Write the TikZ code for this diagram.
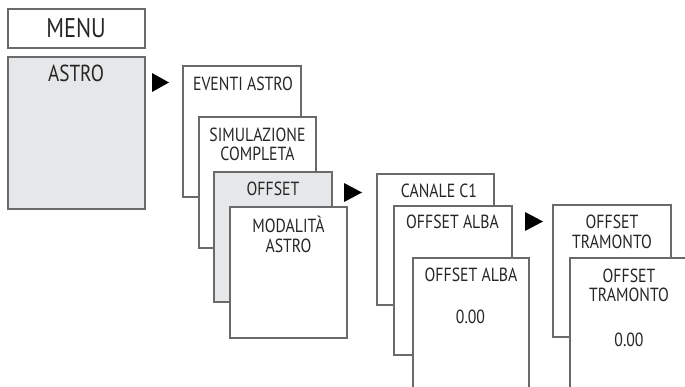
\documentclass[tikz,border=0pt]{standalone}
\usepackage{fontspec}
\setmainfont{PT Sans}[FakeStretch=0.83]
\definecolor{edge}{HTML}{6A6A6A}
\definecolor{panel}{HTML}{E6E7E8}
\definecolor{ink}{HTML}{262626}
\begin{document}
\begin{tikzpicture}[x=1pt,y=-1pt,
  box/.style={draw=edge,line width=1.1pt,fill=white,rectangle,inner sep=0pt,outer sep=0pt,anchor=north west},
  gbox/.style={box,fill=panel},
  lbl/.style={anchor=base,inner sep=0pt,text=ink,font=\fontsize{19}{19.7}\selectfont,align=center},
  big/.style={lbl,font=\fontsize{27}{28}\selectfont},
  tri/.style={fill=black}]
\useasboundingbox (0,0) rectangle (685,387);
\clip (0,0) rectangle (685,387);
% column 1
\node[box,minimum width=137pt,minimum height=39pt] (menu) at (8,9) {};
\node[gbox,minimum width=137pt,minimum height=152pt] (astro) at (8,57) {};
\node[big] (tmenu) at (76,37.7) {MENU};
\node[lbl,font=\fontsize{23.2}{24}\selectfont] (tastro) at (76,81.7) {ASTRO};
% column 2
\node[box,minimum width=118pt,minimum height=131pt] (eventi) at (183,66) {};
\node[box,minimum width=117pt,minimum height=131pt] (simul) at (199,117) {};
\node[gbox,minimum width=118pt,minimum height=130pt] (offset) at (214,172) {};
\node[box,minimum width=117pt,minimum height=131pt] (modal) at (230,207) {};
\node[lbl] (teventi) at (243,90.7) {EVENTI ASTRO};
\node[lbl] (tsimul) at (257.5,161) {SIMULAZIONE\\COMPLETA};
\node[lbl] (toffset) at (273,195.7) {OFFSET};
\node[lbl] (tmodal) at (288.5,252.7) {MODALITÀ\\ASTRO};
% column 3
\node[box,minimum width=117pt,minimum height=131pt] (canale) at (377,174) {};
\node[box,minimum width=118pt,minimum height=149pt] (alba1) at (394,206) {};
\node[box,minimum width=116pt,minimum height=145pt] (alba2) at (413,258) {};
\node[lbl] (tcanale) at (439,197.3) {CANALE C1};
\node[lbl] (talba1) at (452.5,228.7) {OFFSET ALBA};
\node[lbl] (talba2) at (471,281.7) {OFFSET ALBA};
\node[lbl] (valba) at (470.5,323.3) {0.00};
% column 4
\node[box,minimum width=118pt,minimum height=132pt] (tram1) at (553,205) {};
\node[box,minimum width=130pt,minimum height=145pt] (tram2) at (570,258) {};
\node[lbl] (ttram1) at (612,248.3) {OFFSET\\TRAMONTO};
\node[lbl] (ttram2) at (629,301.7) {OFFSET\\TRAMONTO};
\node[lbl] (vtram) at (629,346.7) {0.00};
% arrows
\fill[tri] (152,73) -- (169,82.5) -- (152,92) -- cycle;
\fill[tri] (344,183) -- (362,192.5) -- (344,202) -- cycle;
\fill[tri] (525,212) -- (543,221.5) -- (525,231) -- cycle;
\end{tikzpicture}
\end{document}
